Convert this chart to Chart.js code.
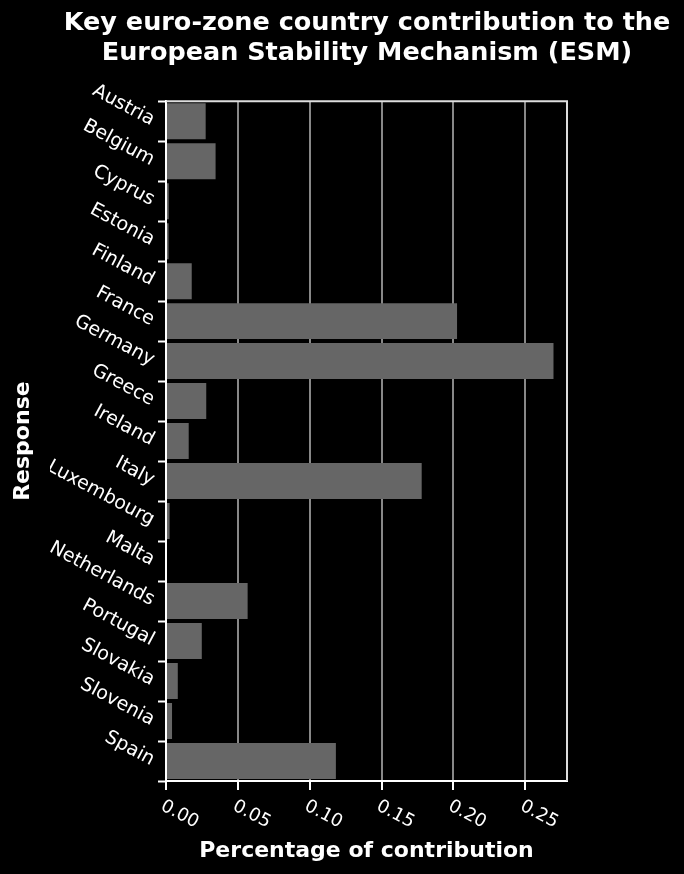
<!DOCTYPE html>
<html>
<head>
<meta charset="utf-8">
<script src="https://cdn.jsdelivr.net/npm/chart.js@4.4.1/dist/chart.umd.min.js"></script>
<style>
html,body{margin:0;padding:0;background:#000;}
#wrap{width:684px;height:874px;}
</style>
</head>
<body>
<div id="wrap"><canvas id="c" width="684" height="874"></canvas></div>
<script>
const categories = ['Austria','Belgium','Cyprus','Estonia','Finland','France','Germany','Greece','Ireland','Italy','Luxembourg','Malta','Netherlands','Portugal','Slovakia','Slovenia','Spain'];
const contribution = [0.0276, 0.0345, 0.0019, 0.0018, 0.0179, 0.2025, 0.2696, 0.0280, 0.0158, 0.1779, 0.0025, 0.0007, 0.0568, 0.0249, 0.0082, 0.0042, 0.1182];
const xTickLabels = ['0.00','0.05','0.10','0.15','0.20','0.25'];
const titleLines = ['Key euro-zone country contribution to the','European Stability Mechanism (ESM)'];

const bgPlugin = {
  id: 'bg',
  beforeDraw(chart) {
    const ctx = chart.ctx;
    ctx.save();
    ctx.fillStyle = '#000';
    ctx.fillRect(0, 0, chart.width, chart.height);
    ctx.restore();
  },
  afterDraw(chart) {
    const ctx = chart.ctx;
    const a = chart.chartArea;
    ctx.save();
    ctx.strokeStyle = '#dddddd';
    ctx.lineWidth = 2;
    ctx.beginPath();
    ctx.moveTo(a.left, a.top);
    ctx.lineTo(a.right, a.top);
    ctx.lineTo(a.right, a.bottom);
    ctx.stroke();
    // x tick labels, slanted
    const xs = chart.scales.x;
    ctx.fillStyle = '#ffffff';
    ctx.font = '18px "DejaVu Sans"';
    ctx.textAlign = 'left';
    ctx.textBaseline = 'middle';
    xs.ticks.forEach(t => {
      const idx = Math.round(t.value / 0.05);
      const lbl = xTickLabels[idx];
      if (lbl === undefined) return;
      const px = xs.getPixelForValue(t.value);
      ctx.save();
      ctx.translate(px - 4, a.bottom + 24);
      ctx.rotate(28 * Math.PI / 180);
      ctx.fillText(lbl, 0, 0);
      ctx.restore();
    });
    ctx.restore();
  }
};

new Chart(document.getElementById('c'), {
  type: 'bar',
  data: {
    labels: categories,
    datasets: [{
      data: contribution,
      backgroundColor: '#666666',
      borderWidth: 0,
      barPercentage: 0.9,
      categoryPercentage: 1.0
    }]
  },
  options: {
    indexAxis: 'y',
    responsive: false,
    animation: false,
    devicePixelRatio: 1,
    layout: { padding: { left: 50, right: 0, top: 0, bottom: 0 } },
    plugins: {
      legend: { display: false },
      tooltip: { enabled: false },
      title: {
        display: true,
        text: titleLines,
        color: '#ffffff',
        font: { family: 'DejaVu Sans', size: 25.5, weight: 'bold', lineHeight: 1.18 },
        padding: { top: 8, bottom: 33 }
      }
    },
    scales: {
      x: {
        type: 'linear',
        position: 'bottom',
        min: 0,
        max: 0.279,
        afterFit(scale) { scale.height = 93; },
        ticks: {
          stepSize: 0.05,
          includeBounds: false,
          display: false
        },
        grid: {
          color: '#888888',
          lineWidth: 2,
          drawTicks: true,
          tickLength: 9,
          tickColor: '#ffffff',
          tickWidth: 2
        },
        border: { display: true, color: '#ffffff', width: 2 },
        title: {
          display: true,
          text: 'Percentage of contribution',
          color: '#ffffff',
          font: { family: 'DejaVu Sans', size: 22, weight: 'bold', lineHeight: 1.2 },
          padding: { top: 0, bottom: 10 }
        }
      },
      y: {
        type: 'category',
        position: 'left',
        offset: true,
        afterFit(scale) { scale.width = 116; },
        ticks: {
          color: '#ffffff',
          font: { family: 'DejaVu Sans', size: 19 },
          minRotation: -28,
          maxRotation: -28,
          padding: 5,
          autoSkip: false
        },
        grid: {
          drawOnChartArea: false,
          drawTicks: true,
          tickLength: 8,
          tickColor: '#ffffff',
          tickWidth: 2
        },
        border: { display: true, color: '#ffffff', width: 2 },
        title: {
          display: true,
          text: 'Response',
          color: '#ffffff',
          font: { family: 'DejaVu Sans', size: 22, weight: 'bold', lineHeight: 1.2 },
          padding: { top: -40, bottom: 0 }
        }
      },
      spacer: {
        type: 'linear',
        position: 'right',
        display: true,
        afterFit(scale) { scale.width = 117; },
        ticks: { display: false },
        grid: { display: false, drawTicks: false },
        border: { display: false },
        title: { display: false }
      }
    }
  },
  plugins: [bgPlugin]
});
</script>
</body>
</html>
